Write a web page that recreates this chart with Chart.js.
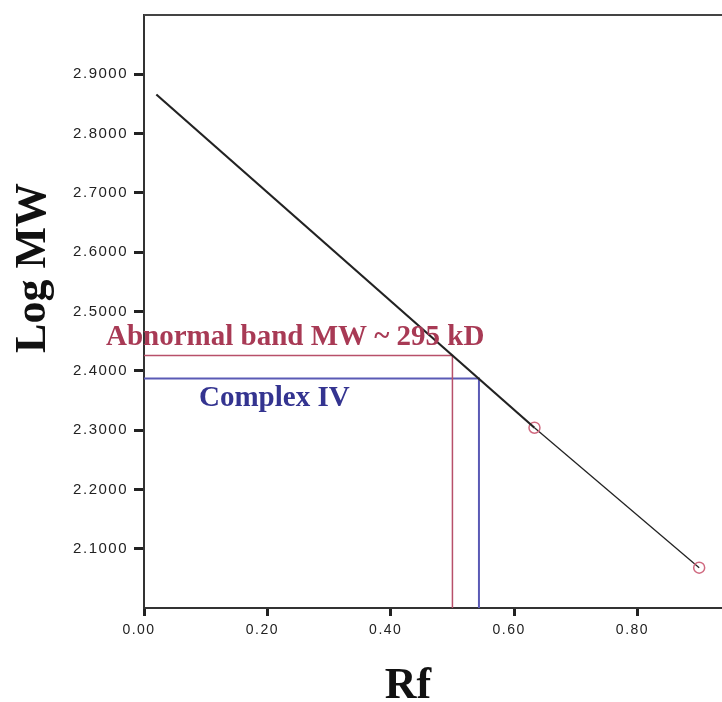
<!DOCTYPE html>
<html>
<head>
<meta charset="utf-8">
<script src="https://cdn.jsdelivr.net/npm/chart.js@4/dist/chart.umd.min.js"></script>
<style>
  body { margin: 0; background: #fff; overflow: hidden; }
</style>
</head>
<body>
<canvas id="mwChart" width="722" height="702"></canvas>
<script>
// ---- data ----
const fitRf = [0.02, 0.633];        // fitted line, thick part
const fitLogMW = [2.866, 2.304];
const markerRf = [0.633, 0.900];    // standards (open circles)
const markerLogMW = [2.304, 2.068];
const abnormalRf = 0.500;           // abnormal band
const abnormalLogMW = 2.426;
const complexRf = 0.543;            // complex IV
const complexLogMW = 2.387;
const xTicks = [0, 0.2, 0.4, 0.6, 0.8];
const yTicks = [2.1, 2.2, 2.3, 2.4, 2.5, 2.6, 2.7, 2.8, 2.9];

const pts = (xs, ys) => xs.map((x, i) => ({ x: x, y: ys[i] }));
const dropLine = (rf, lm) => [{ x: 0, y: lm }, { x: rf, y: lm }, { x: rf, y: 2.0 }];

// draws frame top, axis titles and the two band labels
const extras = {
  id: "extras",
  beforeDraw(chart) {
    chart.ctx.letterSpacing = "1.5px";
  },
  afterDraw(chart) {
    const ctx = chart.ctx;
    const a = chart.chartArea;
    const xs = chart.scales.x, ys = chart.scales.y;
    ctx.save();
    ctx.letterSpacing = "0px";

    // top frame line
    ctx.strokeStyle = "#444";
    ctx.lineWidth = 2;
    ctx.beginPath();
    ctx.moveTo(a.left, a.top);
    ctx.lineTo(a.right, a.top);
    ctx.stroke();

    // band labels
    ctx.font = "bold 29px 'Liberation Serif'";
    ctx.textBaseline = "alphabetic";
    ctx.textAlign = "left";
    ctx.fillStyle = "#a83a55";
    ctx.fillText("Abnormal band MW ~ 295 kD", xs.getPixelForValue(0) - 38, ys.getPixelForValue(abnormalLogMW) - 10);
    ctx.fillStyle = "#343490";
    ctx.fillText("Complex IV", xs.getPixelForValue(0) + 55, ys.getPixelForValue(complexLogMW) + 27);

    // axis titles
    ctx.fillStyle = "#111";
    ctx.font = "bold 44px 'Liberation Serif'";
    ctx.textAlign = "center";
    ctx.fillText("Rf", 408, 698);
    ctx.translate(45, 268);
    ctx.rotate(-Math.PI / 2);
    ctx.fillText("Log MW", 0, 0);
    ctx.restore();
  }
};

new Chart(document.getElementById("mwChart"), {
  type: "scatter",
  data: {
    datasets: [
      {
        label: "fit",
        data: pts(fitRf, fitLogMW),
        showLine: true,
        borderColor: "#222",
        borderWidth: 2.2,
        pointRadius: 0
      },
      {
        label: "standards",
        data: pts(markerRf, markerLogMW),
        showLine: true,
        borderColor: "#222",
        borderWidth: 1.3,
        pointRadius: 5.5,
        pointBorderColor: "#d06a80",
        pointBackgroundColor: "rgba(0,0,0,0)",
        pointBorderWidth: 1.5
      },
      {
        label: "abnormal",
        data: dropLine(abnormalRf, abnormalLogMW),
        showLine: true,
        borderColor: "#b8506a",
        borderWidth: 1.5,
        pointRadius: 0
      },
      {
        label: "complex IV",
        data: dropLine(complexRf, complexLogMW),
        showLine: true,
        borderColor: "#5a5ab5",
        borderWidth: 2,
        pointRadius: 0
      }
    ]
  },
  options: {
    responsive: false,
    animation: false,
    layout: { autoPadding: false, padding: { top: 14, left: 0, right: 0, bottom: 0 } },
    plugins: { legend: { display: false }, tooltip: { enabled: false } },
    scales: {
      x: {
        type: "linear",
        min: 0,
        max: 0.937,
        afterFit: s => { s.height = 94; s.paddingRight = 0; s.paddingLeft = 0; },
        afterBuildTicks: s => { s.ticks = xTicks.map(v => ({ value: v })); },
        border: { color: "#333", width: 2 },
        grid: { drawOnChartArea: false, tickLength: 8, tickWidth: 3, tickColor: "#222" },
        ticks: {
          color: "#222",
          font: { family: "'Liberation Sans'", size: 14 },
          padding: 6,
          labelOffset: -5,
          maxRotation: 0,
          callback: v => v.toFixed(2)
        }
      },
      y: {
        type: "linear",
        min: 2.0,
        max: 3.0,
        afterFit: s => { s.width = 144; },
        afterBuildTicks: s => { s.ticks = yTicks.map(v => ({ value: v })); },
        border: { color: "#333", width: 2 },
        grid: { drawOnChartArea: false, tickLength: 10, tickWidth: 3, tickColor: "#222" },
        ticks: {
          color: "#222",
          font: { family: "'Liberation Sans'", size: 15 },
          padding: 6,
          callback: v => v.toFixed(4)
        }
      }
    }
  },
  plugins: [extras]
});
</script>
</body>
</html>
